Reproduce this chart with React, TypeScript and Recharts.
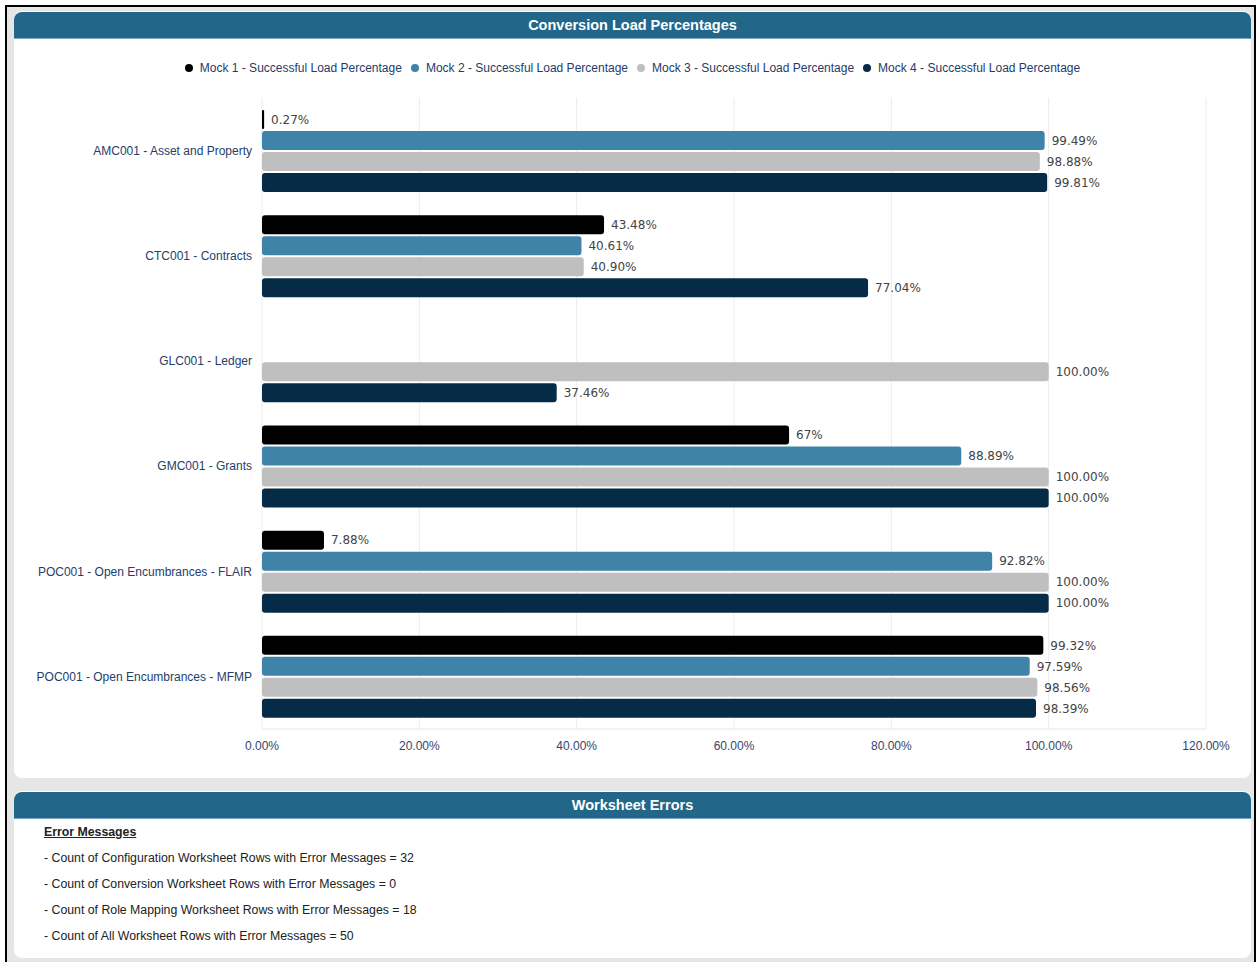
import React from "react";
import { BarChart, Bar, XAxis, YAxis, CartesianGrid, LabelList } from "recharts";

const categories = [
  "AMC001 - Asset and Property",
  "CTC001 - Contracts",
  "GLC001 - Ledger",
  "GMC001 - Grants",
  "POC001 - Open Encumbrances - FLAIR",
  "POC001 - Open Encumbrances - MFMP",
];

const mock1 = [0.27, 43.48, null, 67, 7.88, 99.32];
const mock1Labels = ["0.27%", "43.48%", "", "67%", "7.88%", "99.32%"];
const mock2 = [99.49, 40.61, null, 88.89, 92.82, 97.59];
const mock3 = [98.88, 40.9, 100, 100, 100, 98.56];
const mock4 = [99.81, 77.04, 37.46, 100, 100, 98.39];

const xTicks = [0, 20, 40, 60, 80, 100, 120];

const seriesNames = [
  "Mock 1 - Successful Load Percentage",
  "Mock 2 - Successful Load Percentage",
  "Mock 3 - Successful Load Percentage",
  "Mock 4 - Successful Load Percentage",
];
const seriesColors = ["#000000", "#3f83a9", "#bfbfbf", "#052b47"];

const errorLines = [
  "- Count of Configuration Worksheet Rows with Error Messages = 32",
  "- Count of Conversion Worksheet Rows with Error Messages = 0",
  "- Count of Role Mapping Worksheet Rows with Error Messages = 18",
  "- Count of All Worksheet Rows with Error Messages = 50",
];

const data = categories.map((cat, i) => ({
  cat,
  m1: mock1[i],
  m1Label: mock1Labels[i],
  m2: mock2[i],
  m3: mock3[i],
  m4: mock4[i],
}));

const FONT = '"Liberation Sans", Arial, sans-serif';
const HEADER = "#226689";

const pct = (v: any) => (v == null ? "" : `${Number(v).toFixed(2)}%`);

const labelStyle = { fill: "#444", fontSize: 12, fontFamily: '"DejaVu Sans", sans-serif' };

const Header = ({ top, text }: { top: number; text: string }) => (
  <div
    style={{
      position: "absolute",
      left: 14,
      top,
      width: 1237,
      height: 26,
      background: HEADER,
      borderRadius: "8px 8px 0 0",
      borderBottom: "1px solid #7fa9c2",
      color: "#fff",
      fontWeight: "bold",
      fontSize: 14.5,
      lineHeight: "26px",
      textAlign: "center",
      fontFamily: FONT,
    }}
  >
    {text}
  </div>
);

export default function App() {
  return (
    <div
      style={{
        position: "absolute",
        left: 0,
        top: 0,
        width: 1257,
        height: 962,
        background: "#fff",
        overflow: "hidden",
        fontFamily: FONT,
      }}
    >
      {/* outer frame */}
      <div
        style={{
          position: "absolute",
          left: 5,
          top: 5,
          width: 1247,
          height: 962,
          border: "2px solid #000",
          borderBottom: "none",
          background: "#e6e6e6",
        }}
      />
      {/* panel 1 */}
      <div
        style={{
          position: "absolute",
          left: 14,
          top: 11,
          width: 1237,
          height: 767,
          background: "#fff",
          borderRadius: 8,
        }}
      />
      <Header top={12} text="Conversion Load Percentages" />

      {/* legend */}
      <div
        style={{
          position: "absolute",
          left: 5,
          top: 60,
          width: 1264,
          display: "flex",
          justifyContent: "center",
          fontSize: 12,
          color: "#243a6b",
          lineHeight: "16px",
        }}
      >
        {seriesNames.map((name, i) => (
          <div key={name} style={{ display: "flex", alignItems: "center", marginRight: 9 }}>
            <span
              style={{
                width: 8,
                height: 8,
                borderRadius: 4,
                background: seriesColors[i],
                marginRight: 7,
                display: "inline-block",
              }}
            />
            {name}
          </div>
        ))}
      </div>

      <div style={{ position: "absolute", left: 0, top: 0 }}>
        <BarChart
          width={1257}
          height={780}
          data={data}
          layout="vertical"
          margin={{ top: 98, right: 51, bottom: 21, left: 0 }}
          barSize={19}
          barGap={2}
        >
          <CartesianGrid horizontal={false} stroke="#ebebeb" />
          <XAxis
            type="number"
            domain={[0, 120]}
            ticks={xTicks}
            tickFormatter={pct}
            tickSize={0}
            tickMargin={12}
            height={30}
            axisLine={{ stroke: "#e6e6e6" }}
            tick={{ fill: "#34466e", fontSize: 12, fontFamily: FONT }}
          />
          <YAxis
            type="category"
            dataKey="cat"
            width={262}
            tickSize={0}
            tickMargin={10}
            axisLine={false}
            tick={{ fill: "#253d6b", fontSize: 12, fontFamily: FONT }}
          />
          <Bar dataKey="m1" fill={seriesColors[0]} radius={3} isAnimationActive={false}>
            <LabelList dataKey="m1Label" position="right" offset={7} style={labelStyle} />
          </Bar>
          <Bar dataKey="m2" fill={seriesColors[1]} radius={3} isAnimationActive={false}>
            <LabelList dataKey="m2" position="right" offset={7} formatter={pct} style={labelStyle} />
          </Bar>
          <Bar dataKey="m3" fill={seriesColors[2]} radius={3} isAnimationActive={false}>
            <LabelList dataKey="m3" position="right" offset={7} formatter={pct} style={labelStyle} />
          </Bar>
          <Bar dataKey="m4" fill={seriesColors[3]} radius={3} isAnimationActive={false}>
            <LabelList dataKey="m4" position="right" offset={7} formatter={pct} style={labelStyle} />
          </Bar>
        </BarChart>
      </div>

      {/* panel 2 */}
      <div
        style={{
          position: "absolute",
          left: 14,
          top: 791,
          width: 1237,
          height: 167,
          background: "#fff",
          borderRadius: 8,
        }}
      />
      <Header top={792} text="Worksheet Errors" />
      <div
        style={{
          position: "absolute",
          left: 44,
          top: 824,
          fontSize: 12.3,
          color: "#222",
        }}
      >
        <div style={{ fontWeight: "bold", textDecoration: "underline", lineHeight: "16px" }}>
          Error Messages
        </div>
        {errorLines.map((line) => (
          <div key={line} style={{ marginTop: 10, lineHeight: "16px" }}>
            {line}
          </div>
        ))}
      </div>
    </div>
  );
}
